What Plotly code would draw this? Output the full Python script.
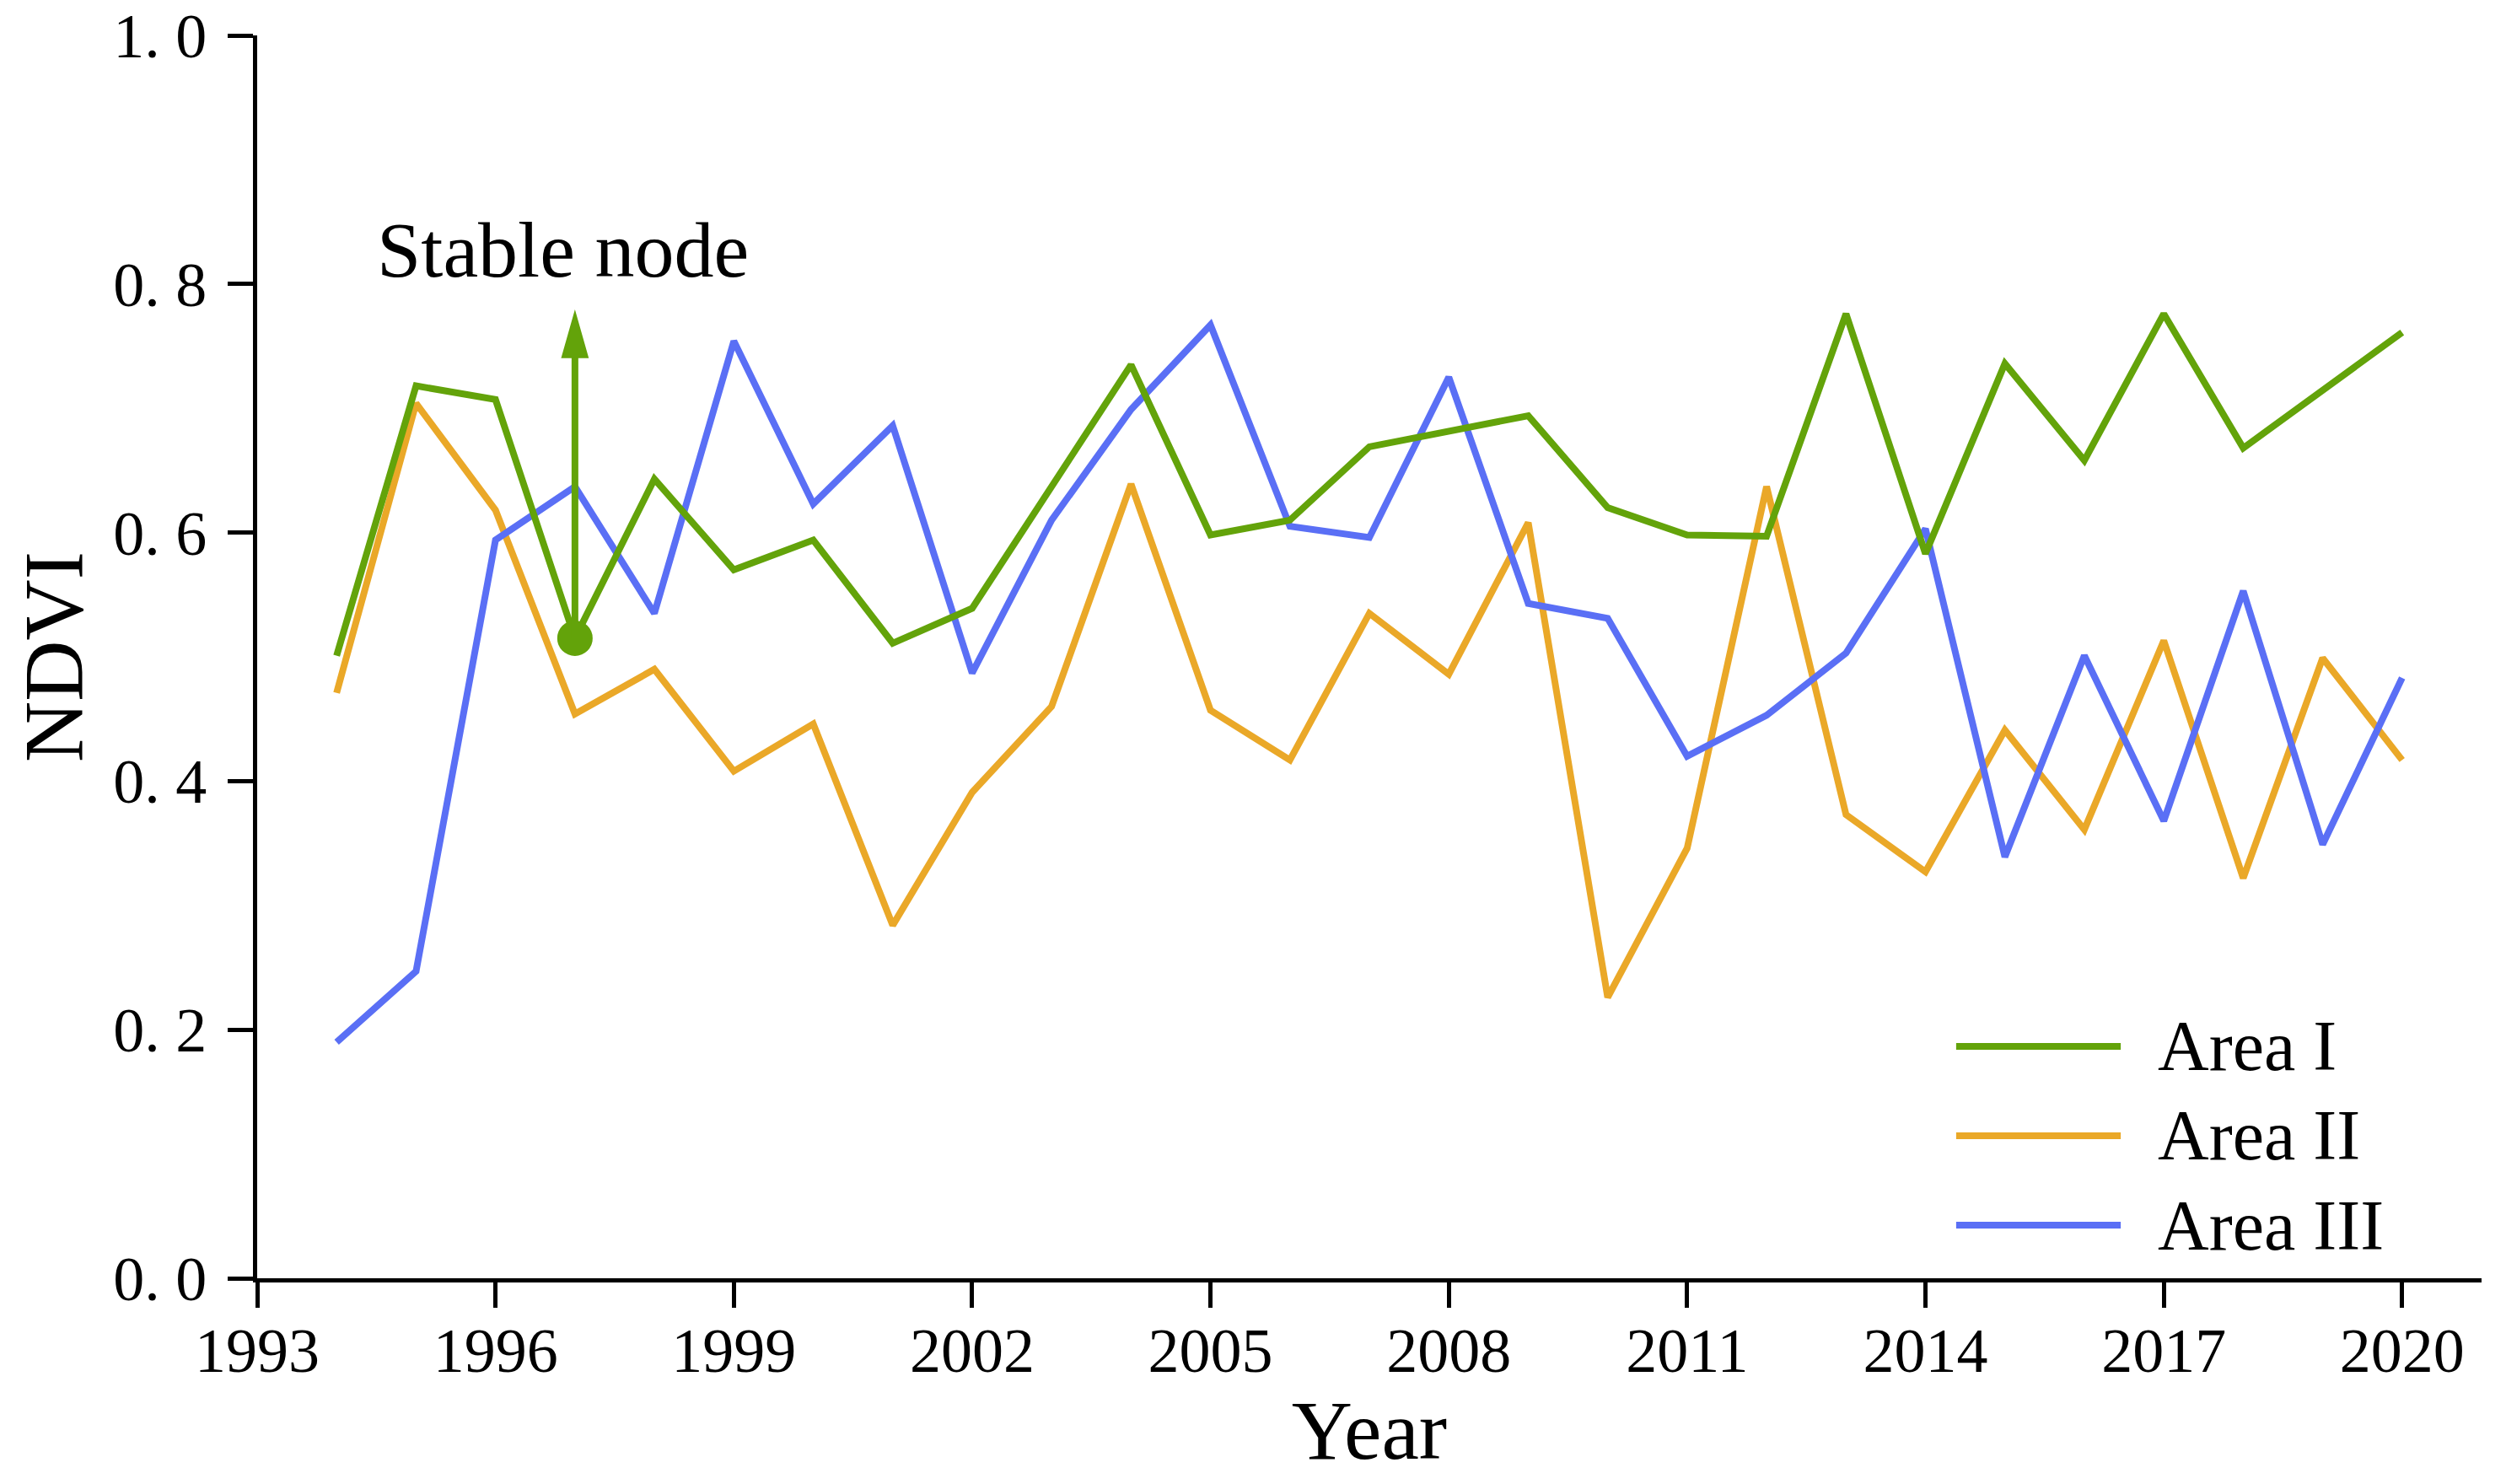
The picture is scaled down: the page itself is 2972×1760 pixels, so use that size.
import plotly.graph_objects as go

# NDVI per year for the three areas
years = list(range(1994, 2021))
area_1 = [0.501, 0.718, 0.707, 0.515, 0.643, 0.570, 0.594, 0.511, 0.539, 0.637,
          0.735, 0.598, 0.610, 0.669, 0.681, 0.694, 0.620, 0.598, 0.597, 0.776,
          0.583, 0.736, 0.658, 0.776, 0.668, 0.715, 0.761]
area_2 = [0.471, 0.704, 0.618, 0.454, 0.490, 0.408, 0.446, 0.284, 0.391, 0.460,
          0.639, 0.457, 0.417, 0.535, 0.486, 0.608, 0.226, 0.346, 0.637, 0.373,
          0.327, 0.441, 0.361, 0.513, 0.322, 0.499, 0.417]
area_3 = [0.190, 0.247, 0.594, 0.637, 0.535, 0.754, 0.623, 0.686, 0.487, 0.610,
          0.699, 0.767, 0.605, 0.596, 0.725, 0.543, 0.531, 0.420, 0.453, 0.503,
          0.603, 0.339, 0.501, 0.368, 0.553, 0.349, 0.483]

x_ticks = [1993, 1996, 1999, 2002, 2005, 2008, 2011, 2014, 2017, 2020]
y_ticks = [0.0, 0.2, 0.4, 0.6, 0.8, 1.0]
y_ticktext = ['0. 0', '0. 2', '0. 4', '0. 6', '0. 8', '1. 0']

series_names = ['Area I', 'Area II', 'Area III']
node_year = 1997
arrow_top = 0.777

COLOR_1 = '#63a30a'
COLOR_2 = '#eaa828'
COLOR_3 = '#5a6ff5'
FONT = 'Liberation Serif'
LW = 8

fig = go.Figure()
# order: orange at the bottom, green on top
for vals, color in [(area_2, COLOR_2), (area_3, COLOR_3), (area_1, COLOR_1)]:
    fig.add_trace(go.Scatter(x=years, y=vals, mode='lines',
                             line=dict(color=color, width=LW), showlegend=False))

# stable node marker + arrow
node_val = area_1[years.index(node_year)]
fig.add_trace(go.Scatter(x=[node_year], y=[node_val], mode='markers',
                         marker=dict(color=COLOR_1, size=42), showlegend=False))
fig.add_shape(type='line', xref='x', yref='y',
              x0=node_year, x1=node_year, y0=node_val, y1=arrow_top - 0.03,
              line=dict(color=COLOR_1, width=LW))
fig.add_shape(type='path', xref='x', yref='y',
              path=f'M {node_year - 0.16} {arrow_top - 0.036} L {node_year} {arrow_top} '
                   f'L {node_year + 0.16} {arrow_top - 0.036} Z',
              fillcolor=COLOR_1, line=dict(color=COLOR_1, width=2))
fig.add_annotation(x=node_year - 0.15, y=0.828, xref='x', yref='y',
                   text='Stable node', showarrow=False,
                   font=dict(family=FONT, size=94, color='black'),
                   xanchor='center', yanchor='middle')

# legend drawn by hand so the key lines can be long
legend_y = [0.1866, 0.1147, 0.0427]
for name, color, ly in zip(series_names, [COLOR_1, COLOR_2, COLOR_3], legend_y):
    fig.add_shape(type='line', xref='paper', yref='paper',
                  x0=0.7638, x1=0.8378, y0=ly, y1=ly,
                  line=dict(color=color, width=LW))
    fig.add_annotation(x=0.8537, y=ly, xref='paper', yref='paper',
                       text=name, showarrow=False, xanchor='left', yanchor='middle',
                       font=dict(family=FONT, size=84, color='black'))

# page body has an 8px margin, so the figure is 16px smaller than the window
fig.update_layout(width=2956, height=1744,
                  plot_bgcolor='white', paper_bgcolor='white',
                  margin=dict(l=297, r=21, t=34, b=236),
                  font=dict(family=FONT, size=74, color='black'),
                  xaxis=dict(range=[1993, 2021], tickvals=x_ticks, automargin=False,
                             showline=True, linecolor='black', linewidth=5,
                             ticks='outside', ticklen=30, tickwidth=5, tickcolor='black',
                             showgrid=False, zeroline=False, ticklabelstandoff=-13,
                             ticklabeloverflow='allow',
                             tickfont=dict(family=FONT, size=74),
                             title=dict(text='Year', font=dict(family=FONT, size=100),
                                        standoff=35)),
                  yaxis=dict(range=[0, 1], tickvals=y_ticks, ticktext=y_ticktext,
                             automargin=False,
                             showline=True, linecolor='black', linewidth=5,
                             ticks='outside', ticklen=30, tickwidth=5, tickcolor='black',
                             showgrid=False, zeroline=False, ticklabelstandoff=10,
                             ticklabeloverflow='allow',
                             tickfont=dict(family=FONT, size=74),
                             title=dict(text='NDVI', font=dict(family=FONT, size=100),
                                        standoff=45)))

fig.write_html('out.html')
